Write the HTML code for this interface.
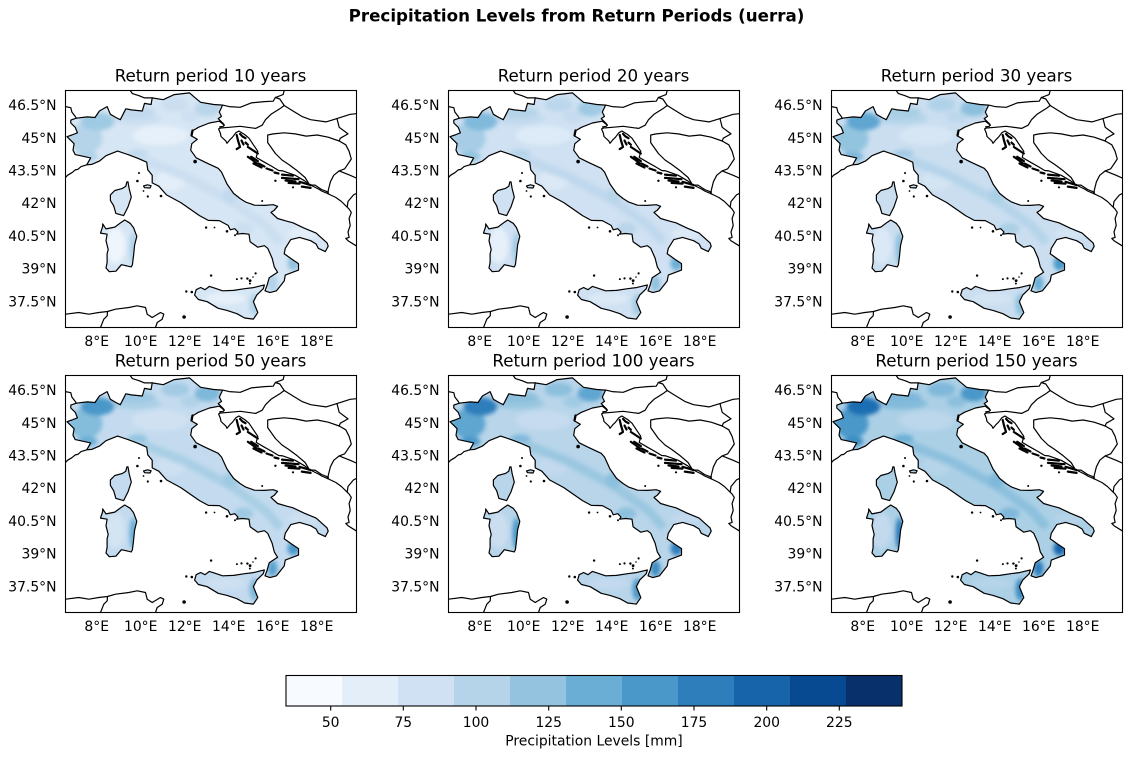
<!DOCTYPE html>
<html>
<head>
<meta charset="utf-8">
<style>
html,body{margin:0;padding:0;background:#fff;}
svg{display:block;}
text{font-family:"DejaVu Sans","Liberation Sans",sans-serif;fill:#000;}
.yl{font-size:13.9px;text-anchor:end;}
.xl{font-size:13.9px;text-anchor:middle;}
.at{font-size:16.7px;text-anchor:middle;}
</style>
</head>
<body>
<svg width="1132" height="759" viewBox="0 0 1132 759" xmlns="http://www.w3.org/2000/svg">
<defs>
<path id="it" d="M5.3,29.6 L10.8,27.7 L21.8,26.4 L29.5,27.0 L33.9,20.5 L41.6,16.1 L44.9,23.8 L50.4,27.0 L54.8,29.2 L60.3,18.3 L65.8,19.4 L76.8,20.5 L79.0,12.9 L85.6,14.0 L86.7,7.4 L97.7,9.2 L108.7,4.1 L124.1,2.4 L128.5,6.3 L135.1,11.8 L148.3,14.0 L157.1,14.6 L153.8,21.6 L156.0,25.9 L152.7,28.1 L154.9,30.3 L158.2,33.6 L158.8,34.7 L153.8,30.7 L143.9,32.5 L132.9,36.8 L127.4,40.1 L126.3,45.6 L131.8,48.8 L126.3,53.2 L125.2,59.7 L130.7,67.3 L139.5,71.7 L152.7,77.8 L156.0,81.5 L161.5,93.5 L168.1,102.9 L174.7,108.1 L180.2,111.6 L189.0,114.7 L198.9,114.9 L207.7,114.2 L212.1,115.8 L208.8,119.7 L205.5,121.9 L212.1,128.0 L220.9,130.6 L227.5,132.3 L238.5,137.6 L250.6,142.6 L261.6,152.4 L262.7,155.7 L259.8,161.1 L252.8,157.8 L250.6,153.5 L245.1,150.2 L234.1,146.9 L225.3,149.1 L219.8,157.8 L218.7,163.2 L226.4,168.7 L233.0,173.1 L233.0,179.6 L219.8,184.6 L218.7,190.5 L211.0,200.3 L204.4,202.1 L199.5,200.3 L201.5,194.9 L203.7,187.3 L212.1,181.8 L208.8,176.4 L206.6,167.6 L202.2,157.8 L198.9,155.2 L192.3,156.7 L184.6,151.3 L183.5,143.7 L176.9,143.0 L171.0,143.7 L172.5,141.5 L169.2,138.2 L164.8,139.3 L162.6,134.9 L153.8,130.1 L142.8,129.9 L134.0,125.1 L125.2,119.0 L115.3,112.1 L101.0,104.4 L93.3,95.7 L86.7,92.4 L86.7,84.8 L82.3,79.4 L81.2,71.7 L72.4,67.8 L62.5,64.1 L52.1,60.6 L40.5,65.2 L33.9,70.6 L26.2,73.9 L21.3,74.3 L25.1,67.4 L9.7,64.1 L7.5,59.7 L8.6,53.2 L1.5,46.2 L6.4,44.5 L11.9,42.3 L9.7,36.8 L5.3,32.5 Z"/>
<path id="si" d="M129.1,204.6 L130.7,199.2 L135.1,197.0 L139.5,199.2 L143.9,195.9 L149.4,197.7 L157.1,200.3 L168.1,199.9 L179.1,198.2 L187.9,197.1 L195.7,195.2 L198.9,194.5 L197.8,198.2 L191.2,204.6 L187.9,211.2 L190.1,216.6 L192.3,222.1 L187.9,228.6 L179.1,227.5 L171.4,223.2 L161.5,219.9 L152.7,217.8 L141.7,211.2 L132.9,209.0 Z"/>
<path id="sa" d="M37.2,133.4 L40.5,138.4 L49.3,136.6 L55.9,131.7 L59.2,129.5 L64.7,132.8 L68.0,137.1 L71.3,145.8 L69.1,154.6 L68.0,165.5 L66.9,174.2 L65.8,176.4 L55.9,174.2 L50.4,180.7 L43.8,181.2 L40.5,177.5 L41.6,172.1 L41.6,163.3 L42.7,159.0 L40.5,150.2 L41.6,143.7 L35.0,142.6 L37.2,136.0 Z"/>
<path id="co" d="M62.5,91.3 L63.6,97.9 L65.8,106.6 L62.5,116.4 L58.1,125.1 L50.4,122.9 L48.2,115.3 L44.9,109.9 L44.9,104.4 L49.3,100.0 L57.0,97.9 L60.3,95.7 L61.4,91.3 Z"/>
<path id="el" d="M78,95.5 L82,94.3 L85.6,95.2 L84.5,97.5 L79,97.2 Z"/>
<clipPath id="land"><use href="#it"/><use href="#si"/><use href="#sa"/><use href="#co"/><use href="#el"/></clipPath>
<clipPath id="ax"><rect x="0" y="0" width="291" height="237"/></clipPath>
<filter id="bl" x="-30%" y="-30%" width="160%" height="160%"><feGaussianBlur stdDeviation="2.2"/></filter>
<g id="ln" fill="none" stroke="#000" stroke-width="1.2" stroke-linejoin="round" stroke-linecap="round">
<use href="#it"/><use href="#si"/><use href="#sa"/><use href="#co"/><use href="#el"/>
<path d="M21.3,74.3 L15.6,76.1 L12.3,78.9 L9.7,79.4 L6.4,82.2 L2.0,84.8 L0,87"/>
<path d="M0,16.1 L5.3,17.2 L6.4,21.6 L9.7,25.9 L10.8,27.7"/>
<path d="M64.7,0 L66.9,3.1 L73.5,5.2 L79,7.4 L86.7,7.4"/>
<path d="M157.1,14.6 L163.7,16.1 L174.7,16.8 L185.7,12.4 L198.9,11.1 L207.7,10.7 L209.9,7.0"/>
<path d="M209.9,7.0 L217.6,4.1 L218.7,0"/>
<path d="M209.9,7.0 L214.3,8.5 L218.7,15.0"/>
<path d="M154.9,37.5 L163.7,36.8 L174.7,35.8 L190.1,37.9 L196.7,34.7 L200,29.2 L205.5,23.8 L214.3,18.3 L218.7,15.0"/>
<path d="M158.8,34.7 L157.7,35.8 L154.2,36.4 L154.9,37.5"/>
<path d="M154.9,37.5 L153.1,38.4 L154.9,42.9 L155.5,46.0 L160.4,50.6 L161.5,52.8 L164.8,48.8 L167,46.7 L170.3,42.3 L173.4,40.5 L179.1,44.0 L183.5,47.7 L187.9,54.3 L192.3,60.8 L190.7,66.9 L198.9,71.7 L205.5,75.4 L213.2,80.0 L217.4,80.4 L229.7,84.8 L239.1,90.3 L242.9,93.1 L245.1,94.6 L253.9,99.0 L256.1,100.5 L262.7,103.3 L264.9,104.4 L270.4,107.0 L275.9,111.0 L280.3,115.3 L283.6,118.6 L285.8,121.9 L283.6,128.0 L284.7,135.0 L282.5,141.5 L283.6,146.9 L280.3,148.0 L282.5,150.2 L291.3,155.7 L295,158"/>
<path d="M218.7,15 L227.5,20.5 L236.3,25.9 L245.1,29.2 L260.5,31.4 L271.5,28.1"/>
<path d="M271.5,28.1 L284.7,23.8 L295.7,22.7"/>
<path d="M271.5,28.1 L273.7,36.8 L282.5,43.4 L274.8,47.7 L273.7,50.5"/>
<path d="M273.7,50.5 L262.7,46.7 L251.7,44.5 L240.7,45.6 L229.7,43.4 L218.7,42.3 L207.7,43.4 L202.2,44.5 L202.2,52.1 L209.9,63.0 L216.5,69.5 L223.1,73.9 L231.9,80.4 L239.6,87.0 L242.9,92.4 L243,93"/>
<path d="M245.1,94.6 L249.5,94.6 L256.1,99 L261.6,101.2 L262.7,103.3"/>
<path d="M273.7,50.5 L280.3,54.3 L283.6,60.8 L285.8,68.5 L279.2,78.3 L273.7,80.4 L268.2,84.8 L264.9,91.3 L262.7,100.1 L262.7,103.3"/>
<path d="M273.7,80.4 L284.7,84.8 L294.6,89.2"/>
<path d="M281.8,116 L282.5,111 L288,104.4 L292.4,102.2"/>
<path d="M0,223.7 L13.3,222 L23.3,223.7 L33.3,222 L42,221 L50,218.7 L63.3,217 L71.7,215.3 L80,217 L81.7,223.7 L86.7,227 L95,222 L98.3,223.7 L96.7,228.7 L91.7,232 L90,237"/>
<path d="M42,221 L41.7,225.3 L38.3,228.7 L35,237"/>
<g stroke-width="2.2">
<path d="M171.2,44.5 L172.5,50 L174.5,56.5 L171.2,58.6"/>
<path d="M174.5,43.4 L177,46 L180.0,47.7"/>
<path d="M176,50 L178,54"/>
<path d="M180,52.1 L182.4,54.3"/>
<path d="M182.4,56.5 L187,59.5 L192.3,63"/>
<path d="M182.4,66.3 L187,69.5 L191.2,72.8"/>
<path d="M185.7,66.3 L192.3,70.6"/>
<path d="M188,73 L196,77"/>
<path d="M193,73 L199,76"/>
<path d="M201,78 L207,80"/>
<path d="M209,82 L213,83"/>
<path d="M216.5,84.1 L227.5,85.2"/>
<path d="M216.5,87.4 L233,88.7"/>
<path d="M220,90 L230,91"/>
<path d="M223.1,92.4 L234.1,93.1"/>
<path d="M234.1,91.3 L245.1,94.6"/>
<path d="M236.3,96.1 L245.1,97.4"/>
<path d="M127,40 L126,45"/>
</g>
<g fill="#000" stroke="none">
<circle cx="71.9" cy="90.5" r="1.3"/><circle cx="73.5" cy="82.5" r="1"/><circle cx="82.3" cy="106" r="1.1"/><circle cx="95.5" cy="105.5" r="1.3"/><circle cx="78" cy="100.5" r="0.9"/>
<circle cx="140.6" cy="137.1" r="1.2"/><circle cx="149" cy="137" r="0.9"/><circle cx="161.5" cy="140.8" r="1.3"/><circle cx="169.5" cy="144.8" r="1"/>
<circle cx="145.6" cy="185.1" r="1.2"/><circle cx="171.4" cy="188.6" r="1"/><circle cx="176" cy="187.9" r="1.1"/><circle cx="181.9" cy="188.1" r="1.2"/><circle cx="184.6" cy="190.1" r="1.4"/><circle cx="184.4" cy="193" r="1"/><circle cx="190.1" cy="182.9" r="1.1"/><circle cx="187.5" cy="186.5" r="0.8"/>
<circle cx="120.8" cy="201" r="1.2"/><circle cx="126.3" cy="201.5" r="1.3"/><circle cx="118.6" cy="226.5" r="1.8"/><circle cx="196.7" cy="110.5" r="1"/>
<circle cx="129.6" cy="71.1" r="1.8"/><circle cx="209.9" cy="90.3" r="1.2"/><circle cx="227.5" cy="96.8" r="1.1"/>
</g>
</g>
</defs>

<rect width="1132" height="759" fill="#fff"/>

<text x="576.5" y="21.5" font-size="16.7" font-weight="bold" text-anchor="middle">Precipitation Levels from Return Periods (uerra)</text>

<!-- Panel 1: 10 years -->
<text class="at" x="210.5" y="81.7">Return period 10 years</text>
<g transform="translate(65.5,90.5)">
<g clip-path="url(#land)"><rect x="-5" y="-5" width="300" height="250" fill="#d6e6f4"/><g filter="url(#bl)">
<ellipse cx="95" cy="45" rx="28" ry="10" fill="#e6f0fa"/>
<ellipse cx="105" cy="90" rx="15" ry="10" fill="#e3eef9"/>
<ellipse cx="238" cy="143" rx="15" ry="6" fill="#e3eef9"/>
<ellipse cx="50" cy="155" rx="10" ry="18" fill="#eef5fc"/>
<ellipse cx="160" cy="208" rx="20" ry="6" fill="#e6f0fa"/>
<path d="M75,68 L120,86 L165,110 L200,135 L215,152" stroke="#cbdff1" stroke-width="9" fill="none"/>
<ellipse cx="178" cy="138" rx="10" ry="6" fill="#cbdff1"/>
<ellipse cx="70" cy="28" rx="26" ry="6" fill="#cbdff1"/>
<ellipse cx="72" cy="63" rx="10" ry="4" fill="#c2d9ee"/>
<ellipse cx="165" cy="105" rx="8" ry="8" fill="#c2d9ee"/>
<ellipse cx="125" cy="26" rx="10" ry="6" fill="#cde0f1"/>
<ellipse cx="20" cy="48" rx="17" ry="15" fill="#b5d4e9"/>
<ellipse cx="70" cy="22" rx="20" ry="6" fill="#c2d9ee"/>
<ellipse cx="110" cy="14" rx="14" ry="7" fill="#cbdff1"/>
<ellipse cx="142" cy="18" rx="13" ry="8" fill="#b9d6ea"/>
<ellipse cx="22" cy="66" rx="10" ry="5" fill="#b0d2e8"/>
<ellipse cx="32" cy="31" rx="17" ry="9" fill="#9fcae3"/>
<ellipse cx="228" cy="173" rx="6" ry="7" fill="#93c4df"/>
<ellipse cx="207" cy="193" rx="5" ry="8" fill="#b0d2e8"/>
<ellipse cx="189" cy="214" rx="5" ry="11" fill="#b0d2e8"/>
<ellipse cx="68" cy="158" rx="4" ry="16" fill="#b0d2e8"/>
</g></g>
<g clip-path="url(#ax)"><use href="#ln"/></g>
<rect x="0" y="0" width="291" height="237" fill="none" stroke="#000" stroke-width="1.1"/>
</g>

<!-- Panel 2: 20 years -->
<text class="at" x="593.5" y="81.7">Return period 20 years</text>
<g transform="translate(448.5,90.5)">
<g clip-path="url(#land)"><rect x="-5" y="-5" width="300" height="250" fill="#cfe1f2"/><g filter="url(#bl)">
<ellipse cx="95" cy="45" rx="28" ry="10" fill="#dcebf7"/>
<ellipse cx="105" cy="90" rx="15" ry="10" fill="#dbe9f6"/>
<ellipse cx="238" cy="143" rx="15" ry="6" fill="#dbe9f6"/>
<ellipse cx="50" cy="155" rx="10" ry="18" fill="#e6f0fa"/>
<ellipse cx="160" cy="208" rx="20" ry="6" fill="#dbe9f6"/>
<path d="M75,68 L120,86 L165,110 L200,135 L215,152" stroke="#c0d8ed" stroke-width="9" fill="none"/>
<ellipse cx="178" cy="138" rx="10" ry="6" fill="#b9d5ea"/>
<ellipse cx="70" cy="28" rx="26" ry="6" fill="#c2d9ee"/>
<ellipse cx="72" cy="63" rx="10" ry="4" fill="#b5d4e9"/>
<ellipse cx="165" cy="105" rx="8" ry="8" fill="#b9d5ea"/>
<ellipse cx="125" cy="26" rx="10" ry="6" fill="#c6dbef"/>
<ellipse cx="20" cy="48" rx="17" ry="15" fill="#a6cde5"/>
<ellipse cx="70" cy="22" rx="20" ry="6" fill="#b5d4e9"/>
<ellipse cx="110" cy="14" rx="14" ry="7" fill="#bcd7eb"/>
<ellipse cx="142" cy="18" rx="13" ry="8" fill="#9fcae3"/>
<ellipse cx="22" cy="66" rx="10" ry="5" fill="#93c4df"/>
<ellipse cx="32" cy="31" rx="17" ry="9" fill="#80b9db"/>
<ellipse cx="228" cy="173" rx="6" ry="7" fill="#6aaed6"/>
<ellipse cx="207" cy="193" rx="5" ry="8" fill="#8fc1de"/>
<ellipse cx="189" cy="214" rx="5" ry="11" fill="#a3cbe4"/>
<ellipse cx="68" cy="158" rx="4" ry="16" fill="#a3cbe4"/>
</g></g>
<g clip-path="url(#ax)"><use href="#ln"/></g>
<rect x="0" y="0" width="291" height="237" fill="none" stroke="#000" stroke-width="1.1"/>
</g>

<!-- Panel 3: 30 years -->
<text class="at" x="976.5" y="81.7">Return period 30 years</text>
<g transform="translate(831.5,90.5)">
<g clip-path="url(#land)"><rect x="-5" y="-5" width="300" height="250" fill="#cadef0"/><g filter="url(#bl)">
<ellipse cx="95" cy="45" rx="28" ry="10" fill="#d6e6f4"/>
<ellipse cx="105" cy="90" rx="15" ry="10" fill="#d3e4f3"/>
<ellipse cx="238" cy="143" rx="15" ry="6" fill="#d3e4f3"/>
<ellipse cx="50" cy="155" rx="10" ry="18" fill="#dbe9f6"/>
<ellipse cx="160" cy="208" rx="20" ry="6" fill="#d3e4f3"/>
<path d="M75,68 L120,86 L165,110 L200,135 L215,152" stroke="#b5d4e9" stroke-width="9" fill="none"/>
<ellipse cx="178" cy="138" rx="10" ry="6" fill="#abd0e6"/>
<ellipse cx="70" cy="28" rx="26" ry="6" fill="#b5d4e9"/>
<ellipse cx="72" cy="63" rx="10" ry="4" fill="#a3cbe4"/>
<ellipse cx="165" cy="105" rx="8" ry="8" fill="#abd0e6"/>
<ellipse cx="125" cy="26" rx="10" ry="6" fill="#bcd7eb"/>
<ellipse cx="20" cy="48" rx="17" ry="15" fill="#93c4df"/>
<ellipse cx="70" cy="22" rx="20" ry="6" fill="#a9cfe5"/>
<ellipse cx="110" cy="14" rx="14" ry="7" fill="#b0d2e8"/>
<ellipse cx="142" cy="18" rx="13" ry="8" fill="#8cc0dd"/>
<ellipse cx="22" cy="66" rx="10" ry="5" fill="#7fb8da"/>
<ellipse cx="32" cy="31" rx="17" ry="9" fill="#5fa6d1"/>
<ellipse cx="228" cy="173" rx="6" ry="7" fill="#4a98c9"/>
<ellipse cx="207" cy="193" rx="5" ry="8" fill="#6aaed6"/>
<ellipse cx="189" cy="214" rx="5" ry="11" fill="#8cc0dd"/>
<ellipse cx="68" cy="158" rx="4" ry="16" fill="#8cc0dd"/>
</g></g>
<g clip-path="url(#ax)"><use href="#ln"/></g>
<rect x="0" y="0" width="291" height="237" fill="none" stroke="#000" stroke-width="1.1"/>
</g>

<!-- Panel 4: 50 years -->
<text class="at" x="210.5" y="366.7">Return period 50 years</text>
<g transform="translate(65.5,375.5)">
<g clip-path="url(#land)"><rect x="-5" y="-5" width="300" height="250" fill="#c4dbef"/><g filter="url(#bl)">
<ellipse cx="95" cy="45" rx="28" ry="10" fill="#d0e2f2"/>
<ellipse cx="105" cy="90" rx="15" ry="10" fill="#cde0f1"/>
<ellipse cx="238" cy="143" rx="15" ry="6" fill="#cde0f1"/>
<ellipse cx="50" cy="155" rx="10" ry="18" fill="#d3e4f3"/>
<ellipse cx="160" cy="208" rx="20" ry="6" fill="#cde0f1"/>
<path d="M75,68 L120,86 L165,110 L200,135 L215,152" stroke="#a9cfe5" stroke-width="9" fill="none"/>
<ellipse cx="178" cy="138" rx="10" ry="6" fill="#9fcae3"/>
<ellipse cx="70" cy="28" rx="26" ry="6" fill="#abd0e6"/>
<ellipse cx="72" cy="63" rx="10" ry="4" fill="#93c4df"/>
<ellipse cx="165" cy="105" rx="8" ry="8" fill="#9fcae3"/>
<ellipse cx="125" cy="26" rx="10" ry="6" fill="#b0d2e8"/>
<ellipse cx="20" cy="48" rx="17" ry="15" fill="#84bcdb"/>
<ellipse cx="70" cy="22" rx="20" ry="6" fill="#9fcae3"/>
<ellipse cx="110" cy="14" rx="14" ry="7" fill="#a3cbe4"/>
<ellipse cx="142" cy="18" rx="13" ry="8" fill="#7fb8da"/>
<ellipse cx="22" cy="66" rx="10" ry="5" fill="#6aaed6"/>
<ellipse cx="32" cy="31" rx="17" ry="9" fill="#4a98c9"/>
<ellipse cx="228" cy="173" rx="6" ry="7" fill="#4a98c9"/>
<ellipse cx="207" cy="193" rx="5" ry="8" fill="#5aa2cf"/>
<ellipse cx="189" cy="214" rx="5" ry="11" fill="#7fb8da"/>
<ellipse cx="68" cy="158" rx="4" ry="16" fill="#6aaed6"/>
</g></g>
<g clip-path="url(#ax)"><use href="#ln"/></g>
<rect x="0" y="0" width="291" height="237" fill="none" stroke="#000" stroke-width="1.1"/>
</g>

<!-- Panel 5: 100 years -->
<text class="at" x="593.5" y="366.7">Return period 100 years</text>
<g transform="translate(448.5,375.5)">
<g clip-path="url(#land)"><rect x="-5" y="-5" width="300" height="250" fill="#b8d5ea"/><g filter="url(#bl)">
<ellipse cx="95" cy="45" rx="28" ry="10" fill="#c6dbef"/>
<ellipse cx="105" cy="90" rx="15" ry="10" fill="#c2d9ee"/>
<ellipse cx="238" cy="143" rx="15" ry="6" fill="#c2d9ee"/>
<ellipse cx="50" cy="155" rx="10" ry="18" fill="#cadef0"/>
<ellipse cx="160" cy="208" rx="20" ry="6" fill="#c2d9ee"/>
<path d="M75,68 L120,86 L165,110 L200,135 L215,152" stroke="#9ac7e0" stroke-width="9" fill="none"/>
<ellipse cx="178" cy="138" rx="10" ry="6" fill="#8cc0dd"/>
<ellipse cx="70" cy="28" rx="26" ry="6" fill="#9ac7e0"/>
<ellipse cx="72" cy="63" rx="10" ry="4" fill="#7fb8da"/>
<ellipse cx="165" cy="105" rx="8" ry="8" fill="#8cc0dd"/>
<ellipse cx="125" cy="26" rx="10" ry="6" fill="#9fcae3"/>
<ellipse cx="20" cy="48" rx="17" ry="15" fill="#5fa6d1"/>
<ellipse cx="70" cy="22" rx="20" ry="6" fill="#8cc0dd"/>
<ellipse cx="110" cy="14" rx="14" ry="7" fill="#8cc0dd"/>
<ellipse cx="142" cy="18" rx="13" ry="8" fill="#5fa6d1"/>
<ellipse cx="22" cy="66" rx="10" ry="5" fill="#4a98c9"/>
<ellipse cx="32" cy="31" rx="17" ry="9" fill="#2e7ebc"/>
<ellipse cx="228" cy="173" rx="6" ry="7" fill="#2e7ebc"/>
<ellipse cx="207" cy="193" rx="5" ry="8" fill="#3a8cc2"/>
<ellipse cx="189" cy="214" rx="5" ry="11" fill="#4a98c9"/>
<ellipse cx="68" cy="158" rx="4" ry="16" fill="#4a98c9"/>
</g></g>
<g clip-path="url(#ax)"><use href="#ln"/></g>
<rect x="0" y="0" width="291" height="237" fill="none" stroke="#000" stroke-width="1.1"/>
</g>

<!-- Panel 6: 150 years -->
<text class="at" x="976.5" y="366.7">Return period 150 years</text>
<g transform="translate(831.5,375.5)">
<g clip-path="url(#land)"><rect x="-5" y="-5" width="300" height="250" fill="#abd0e6"/><g filter="url(#bl)">
<ellipse cx="95" cy="45" rx="28" ry="10" fill="#bcd7eb"/>
<ellipse cx="105" cy="90" rx="15" ry="10" fill="#b5d4e9"/>
<ellipse cx="238" cy="143" rx="15" ry="6" fill="#b5d4e9"/>
<ellipse cx="50" cy="155" rx="10" ry="18" fill="#c2d9ee"/>
<ellipse cx="160" cy="208" rx="20" ry="6" fill="#b5d4e9"/>
<path d="M75,68 L120,86 L165,110 L200,135 L215,152" stroke="#8cc0dd" stroke-width="9" fill="none"/>
<ellipse cx="178" cy="138" rx="10" ry="6" fill="#7fb8da"/>
<ellipse cx="70" cy="28" rx="26" ry="6" fill="#84bcdb"/>
<ellipse cx="72" cy="63" rx="10" ry="4" fill="#6aaed6"/>
<ellipse cx="165" cy="105" rx="8" ry="8" fill="#7fb8da"/>
<ellipse cx="125" cy="26" rx="10" ry="6" fill="#8cc0dd"/>
<ellipse cx="20" cy="48" rx="17" ry="15" fill="#4a98c9"/>
<ellipse cx="70" cy="22" rx="20" ry="6" fill="#7fb8da"/>
<ellipse cx="110" cy="14" rx="14" ry="7" fill="#7fb8da"/>
<ellipse cx="142" cy="18" rx="13" ry="8" fill="#4a98c9"/>
<ellipse cx="22" cy="66" rx="10" ry="5" fill="#3a8cc2"/>
<ellipse cx="32" cy="31" rx="17" ry="9" fill="#1f6eb3"/>
<ellipse cx="228" cy="173" rx="6" ry="7" fill="#1764ab"/>
<ellipse cx="207" cy="193" rx="5" ry="8" fill="#2e7ebc"/>
<ellipse cx="189" cy="214" rx="5" ry="11" fill="#3a8cc2"/>
<ellipse cx="68" cy="158" rx="4" ry="16" fill="#2e7ebc"/>
</g></g>
<g clip-path="url(#ax)"><use href="#ln"/></g>
<rect x="0" y="0" width="291" height="237" fill="none" stroke="#000" stroke-width="1.1"/>
</g>

<!-- Y tick labels row 1 -->
<text class="yl" x="56.5" y="110.1">46.5°N</text><text class="yl" x="56.5" y="142.8">45°N</text><text class="yl" x="56.5" y="175.5">43.5°N</text><text class="yl" x="56.5" y="208.2">42°N</text><text class="yl" x="56.5" y="240.9">40.5°N</text><text class="yl" x="56.5" y="273.6">39°N</text><text class="yl" x="56.5" y="306.3">37.5°N</text>
<text class="yl" x="439.5" y="110.1">46.5°N</text><text class="yl" x="439.5" y="142.8">45°N</text><text class="yl" x="439.5" y="175.5">43.5°N</text><text class="yl" x="439.5" y="208.2">42°N</text><text class="yl" x="439.5" y="240.9">40.5°N</text><text class="yl" x="439.5" y="273.6">39°N</text><text class="yl" x="439.5" y="306.3">37.5°N</text>
<text class="yl" x="822.5" y="110.1">46.5°N</text><text class="yl" x="822.5" y="142.8">45°N</text><text class="yl" x="822.5" y="175.5">43.5°N</text><text class="yl" x="822.5" y="208.2">42°N</text><text class="yl" x="822.5" y="240.9">40.5°N</text><text class="yl" x="822.5" y="273.6">39°N</text><text class="yl" x="822.5" y="306.3">37.5°N</text>
<!-- Y tick labels row 2 -->
<text class="yl" x="56.5" y="395.1">46.5°N</text><text class="yl" x="56.5" y="427.8">45°N</text><text class="yl" x="56.5" y="460.5">43.5°N</text><text class="yl" x="56.5" y="493.2">42°N</text><text class="yl" x="56.5" y="525.9">40.5°N</text><text class="yl" x="56.5" y="558.6">39°N</text><text class="yl" x="56.5" y="591.3">37.5°N</text>
<text class="yl" x="439.5" y="395.1">46.5°N</text><text class="yl" x="439.5" y="427.8">45°N</text><text class="yl" x="439.5" y="460.5">43.5°N</text><text class="yl" x="439.5" y="493.2">42°N</text><text class="yl" x="439.5" y="525.9">40.5°N</text><text class="yl" x="439.5" y="558.6">39°N</text><text class="yl" x="439.5" y="591.3">37.5°N</text>
<text class="yl" x="822.5" y="395.1">46.5°N</text><text class="yl" x="822.5" y="427.8">45°N</text><text class="yl" x="822.5" y="460.5">43.5°N</text><text class="yl" x="822.5" y="493.2">42°N</text><text class="yl" x="822.5" y="525.9">40.5°N</text><text class="yl" x="822.5" y="558.6">39°N</text><text class="yl" x="822.5" y="591.3">37.5°N</text>

<!-- X tick labels row 1 -->
<text class="xl" x="96.7" y="346">8°E</text><text class="xl" x="140.7" y="346">10°E</text><text class="xl" x="184.7" y="346">12°E</text><text class="xl" x="228.7" y="346">14°E</text><text class="xl" x="272.7" y="346">16°E</text><text class="xl" x="316.7" y="346">18°E</text>
<text class="xl" x="479.7" y="346">8°E</text><text class="xl" x="523.7" y="346">10°E</text><text class="xl" x="567.7" y="346">12°E</text><text class="xl" x="611.7" y="346">14°E</text><text class="xl" x="655.7" y="346">16°E</text><text class="xl" x="699.7" y="346">18°E</text>
<text class="xl" x="862.7" y="346">8°E</text><text class="xl" x="906.7" y="346">10°E</text><text class="xl" x="950.7" y="346">12°E</text><text class="xl" x="994.7" y="346">14°E</text><text class="xl" x="1038.7" y="346">16°E</text><text class="xl" x="1082.7" y="346">18°E</text>
<!-- X tick labels row 2 -->
<text class="xl" x="96.7" y="631">8°E</text><text class="xl" x="140.7" y="631">10°E</text><text class="xl" x="184.7" y="631">12°E</text><text class="xl" x="228.7" y="631">14°E</text><text class="xl" x="272.7" y="631">16°E</text><text class="xl" x="316.7" y="631">18°E</text>
<text class="xl" x="479.7" y="631">8°E</text><text class="xl" x="523.7" y="631">10°E</text><text class="xl" x="567.7" y="631">12°E</text><text class="xl" x="611.7" y="631">14°E</text><text class="xl" x="655.7" y="631">16°E</text><text class="xl" x="699.7" y="631">18°E</text>
<text class="xl" x="862.7" y="631">8°E</text><text class="xl" x="906.7" y="631">10°E</text><text class="xl" x="950.7" y="631">12°E</text><text class="xl" x="994.7" y="631">14°E</text><text class="xl" x="1038.7" y="631">16°E</text><text class="xl" x="1082.7" y="631">18°E</text>

<!-- Colorbar -->
<g>
<rect x="286" y="675.5" width="56" height="30.5" fill="#f7fbff"/>
<rect x="342" y="675.5" width="56" height="30.5" fill="#e3eef9"/>
<rect x="398" y="675.5" width="56" height="30.5" fill="#cfe1f2"/>
<rect x="454" y="675.5" width="56" height="30.5" fill="#b5d4e9"/>
<rect x="510" y="675.5" width="56" height="30.5" fill="#93c3df"/>
<rect x="566" y="675.5" width="56" height="30.5" fill="#6aaed6"/>
<rect x="622" y="675.5" width="56" height="30.5" fill="#4a98c9"/>
<rect x="678" y="675.5" width="56" height="30.5" fill="#2e7ebc"/>
<rect x="734" y="675.5" width="56" height="30.5" fill="#1764ab"/>
<rect x="790" y="675.5" width="56" height="30.5" fill="#084a91"/>
<rect x="846" y="675.5" width="56" height="30.5" fill="#08306b"/>
<rect x="286" y="675.5" width="616" height="30.5" fill="none" stroke="#000" stroke-width="1.1"/>
<g stroke="#000" stroke-width="1.1">
<line x1="330.7" y1="706" x2="330.7" y2="710.5"/>
<line x1="403.3" y1="706" x2="403.3" y2="710.5"/>
<line x1="476" y1="706" x2="476" y2="710.5"/>
<line x1="548.7" y1="706" x2="548.7" y2="710.5"/>
<line x1="621.3" y1="706" x2="621.3" y2="710.5"/>
<line x1="694" y1="706" x2="694" y2="710.5"/>
<line x1="766.7" y1="706" x2="766.7" y2="710.5"/>
<line x1="839.3" y1="706" x2="839.3" y2="710.5"/>
</g>
<text class="xl" x="330.7" y="727">50</text>
<text class="xl" x="403.3" y="727">75</text>
<text class="xl" x="476" y="727">100</text>
<text class="xl" x="548.7" y="727">125</text>
<text class="xl" x="621.3" y="727">150</text>
<text class="xl" x="694" y="727">175</text>
<text class="xl" x="766.7" y="727">200</text>
<text class="xl" x="839.3" y="727">225</text>
<text class="xl" x="594" y="745.5">Precipitation Levels [mm]</text>
</g>
</svg>
</body>
</html>
